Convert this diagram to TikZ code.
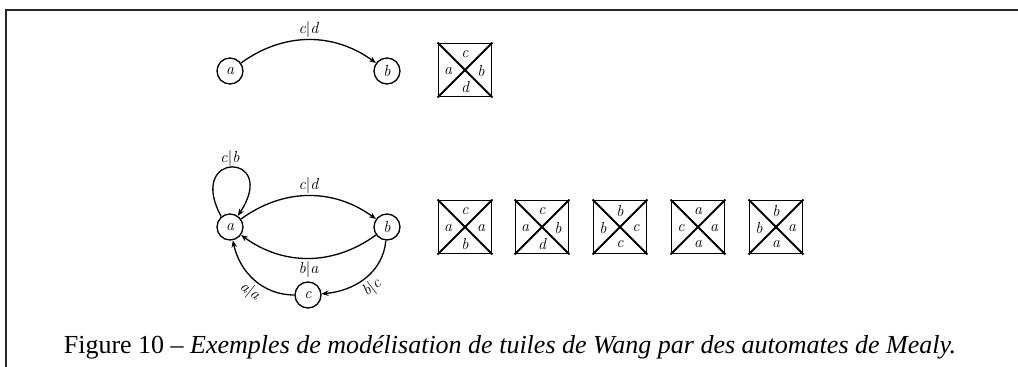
\documentclass[tikz,border=0pt]{standalone}
\usepackage{fontspec}
\setmainfont{Liberation Serif}
\usetikzlibrary{arrows.meta,calc}
\newfontfamily\lmfont{Latin Modern Roman}
\newcommand{\vb}{\textup{|}}
\begin{document}
\begin{tikzpicture}[x=1pt,y=-1pt,
  state/.style={circle,draw,line width=1.3pt,minimum size=26pt,inner sep=0pt,font=\lmfont\itshape\fontsize{16}{18}\selectfont},
  trans/.style={line width=1.3pt,-{Stealth[length=7pt,width=5.5pt]}},
  lab/.style={font=\lmfont\itshape\fontsize{16}{18}\selectfont,inner sep=1pt},
  tilebox/.style={draw,line width=1.8pt,minimum size=53pt,inner sep=0pt},
  frame/.style={line width=2pt,draw=black!85}
]
\useasboundingbox (0,0) rectangle (1018,367);
\draw[frame] (5.5,367) -- (5.5,9.5) -- (1018,9.5);

% --- top automaton
\node[state] (ta) at (230,71) {a};
\node[state] (tb) at (387,71) {b};
\draw[trans] (ta) to[bend left=36] node[lab,above=1pt] {c\vb d} (tb);

\newcommand{\wangtile}[6]{%
  \node[tilebox] (#1) at #2 {};
  \draw[line width=1.8pt] (#1.north west) -- (#1.south east) (#1.north east) -- (#1.south west);
  \node[lab] (#1t) at ($(#1)+(0,-16)$) {#3};
  \node[lab] (#1l) at ($(#1)+(-17,1)$) {#4};
  \node[lab] (#1r) at ($(#1)+(16,1)$) {#5};
  \node[lab] (#1b) at ($(#1)+(0,17)$) {#6};
}
\wangtile{T}{(465,70)}{c}{a}{b}{d}

% --- bottom automaton
\node[state] (a) at (230,227) {a};
\node[state] (b) at (387,227) {b};
\node[state] (c) at (308,295) {c};
\draw[trans] (a.130) .. controls (185,150) and (280,152) .. (a.55);
\node[lab] (loopl) at (230,158) {c\vb b};
\draw[trans] (a) to[bend left=36] node[lab,above=1pt] {c\vb d} (b);
\draw[trans] (b) to[bend left=36] node[lab,below=2pt] {b\vb a} (a);
\draw[trans] (c) to[out=180,in=-78] node[lab,sloped,below=2pt,pos=0.45] {a\vb a} (a);
\draw[trans] (b) to[out=-95,in=5] node[lab,sloped,below=2pt,pos=0.5] {b\vb c} (c);

\wangtile{W1}{(465,227)}{c}{a}{a}{b}
\wangtile{W2}{(542,227)}{c}{a}{b}{d}
\wangtile{W3}{(620,227)}{b}{b}{c}{c}
\wangtile{W4}{(698,227)}{a}{c}{a}{a}
\wangtile{W5}{(776,227)}{b}{b}{a}{a}

\node[font=\fontsize{26}{30}\selectfont,inner sep=0pt,anchor=base] (cap) at (510,353)
  {Figure 10 -- \textit{Exemples de modélisation de tuiles de Wang par des automates de Mealy.}};
\end{tikzpicture}
\end{document}
